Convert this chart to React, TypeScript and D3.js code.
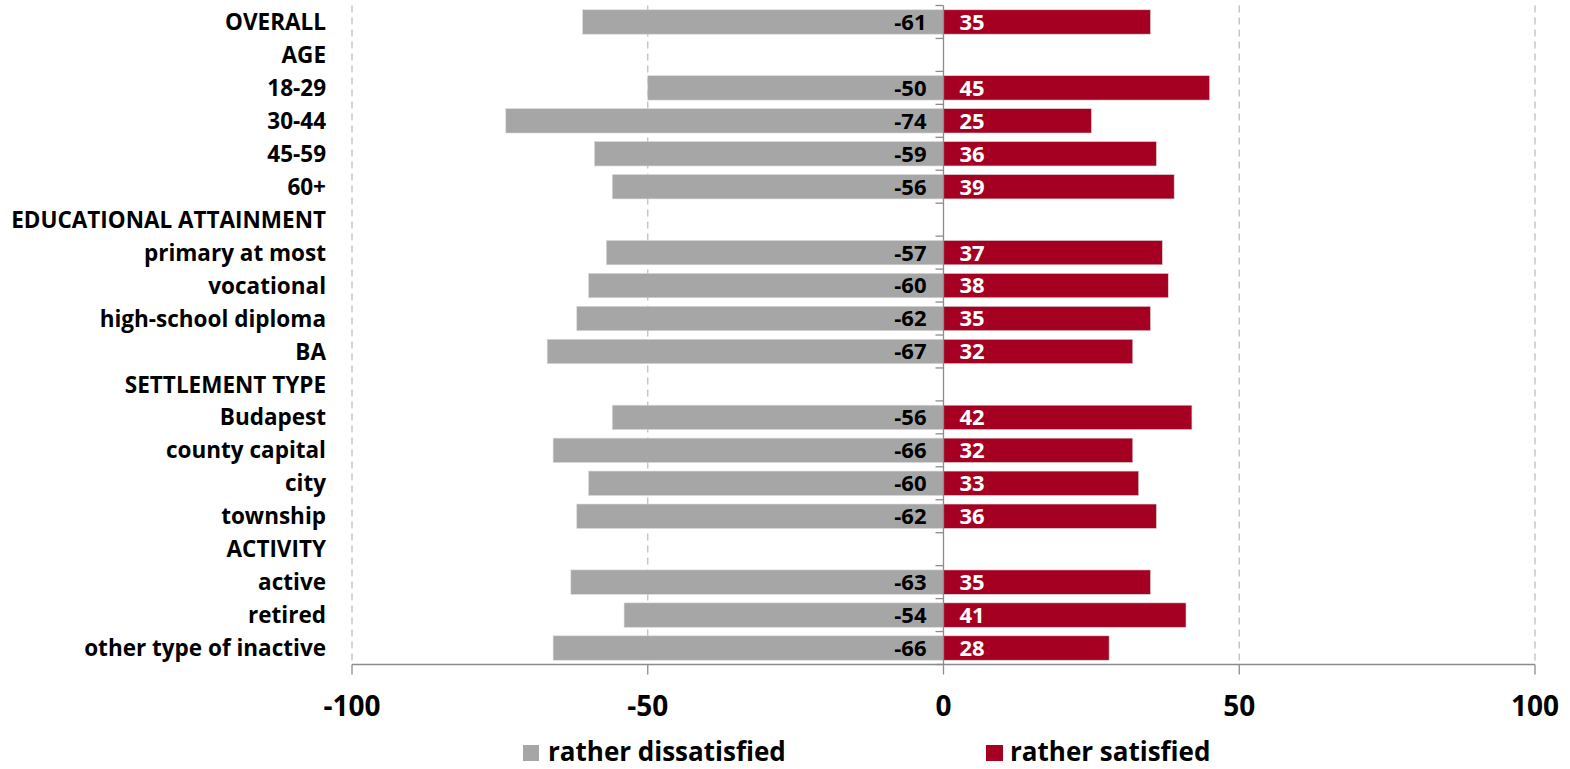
import React from "react";
import * as d3 from "d3";

const categories: string[] = [
  "OVERALL", "AGE", "18-29", "30-44", "45-59", "60+",
  "EDUCATIONAL ATTAINMENT", "primary at most", "vocational", "high-school diploma", "BA",
  "SETTLEMENT TYPE", "Budapest", "county capital", "city", "township",
  "ACTIVITY", "active", "retired", "other type of inactive",
];
const dissatisfied: (number | null)[] = [
  -61, null, -50, -74, -59, -56,
  null, -57, -60, -62, -67,
  null, -56, -66, -60, -62,
  null, -63, -54, -66,
];
const satisfied: (number | null)[] = [
  35, null, 45, 25, 36, 39,
  null, 37, 38, 35, 32,
  null, 42, 32, 33, 36,
  null, 35, 41, 28,
];
const xTicks: number[] = [-100, -50, 0, 50, 100];
const seriesNames: string[] = ["rather dissatisfied", "rather satisfied"];

const GRAY = "#A6A6A6";
const RED = "#A50021";
const FONT = "'Open Sans', Arial, sans-serif";

export default function App() {
  const W = 1570, H = 769;
  const x = d3.scaleLinear().domain([-100, 100]).range([352, 1535]);
  const y = d3.scaleBand<string>().domain(categories).range([5.5, 664.5]).paddingInner(0.26).paddingOuter(0.13);
  const bandStep = y.step();
  const x0 = x(0);
  const axisY = 664.5;

  return (
    <svg width={W} height={H} style={{ position: "absolute", left: 0, top: 0, background: "#fff" }} fontFamily={FONT}>
      {/* gridlines */}
      {xTicks.filter(t => t !== 0).map(t => (
        <line key={"g" + t} x1={x(t)} x2={x(t)} y1={5.5} y2={axisY} stroke="#BFBFBF" strokeWidth={1.3} strokeDasharray="7,5" />
      ))}
      {/* bars */}
      {categories.map((c, i) => {
        const d = dissatisfied[i];
        const s = satisfied[i];
        const yy = y(c)!;
        const bh = y.bandwidth();
        return (
          <g key={c}>
            {d !== null && (
              <rect x={x(d)} y={yy} width={x0 - x(d)} height={bh} fill={GRAY} stroke="#D9D9D9" strokeWidth={0.6} />
            )}
            {s !== null && (
              <rect x={x0} y={yy} width={x(s) - x0} height={bh} fill={RED} stroke="#D9D9D9" strokeWidth={0.6} />
            )}
            {d !== null && (
              <text x={x0 - 17} y={yy + bh / 2} dy="0.36em" textAnchor="end" fontSize={22} fontWeight="bold" fill="#000">{d}</text>
            )}
            {s !== null && (
              <text x={x0 + 16} y={yy + bh / 2} dy="0.36em" textAnchor="start" fontSize={22} fontWeight="bold" fill="#fff">{s}</text>
            )}
            <text x={326} y={yy + bh / 2} dy="0.36em" textAnchor="end" fontSize={22.5} fontWeight="bold" fill="#000">{c}</text>
          </g>
        );
      })}
      {/* vertical zero axis with category ticks */}
      <line x1={x0} x2={x0} y1={5.5} y2={axisY} stroke="#8C8C8C" strokeWidth={1.3} />
      {d3.range(categories.length + 1).map(i => {
        const ty = 5.5 + i * bandStep;
        return <line key={"ct" + i} x1={x0 - 8} x2={x0} y1={ty} y2={ty} stroke="#8C8C8C" strokeWidth={1.3} />;
      })}
      {/* bottom axis */}
      <line x1={x(-100)} x2={x(100)} y1={axisY} y2={axisY} stroke="#8C8C8C" strokeWidth={1.3} />
      {xTicks.map(t => (
        <g key={"t" + t}>
          <line x1={x(t)} x2={x(t)} y1={axisY} y2={axisY + 10} stroke="#8C8C8C" strokeWidth={1.3} />
          <text x={x(t)} y={706} dy="0.36em" textAnchor="middle" fontSize={28} fontWeight="bold" fill="#000">{t}</text>
        </g>
      ))}
      {/* legend */}
      <rect x={523} y={745} width={16} height={16} fill={GRAY} />
      <text x={548} y={761} fontSize={26} fontWeight="bold" fill="#000">{seriesNames[0]}</text>
      <rect x={986} y={745} width={17} height={16} fill={RED} />
      <text x={1010} y={761} fontSize={26} fontWeight="bold" fill="#000">{seriesNames[1]}</text>
    </svg>
  );
}
